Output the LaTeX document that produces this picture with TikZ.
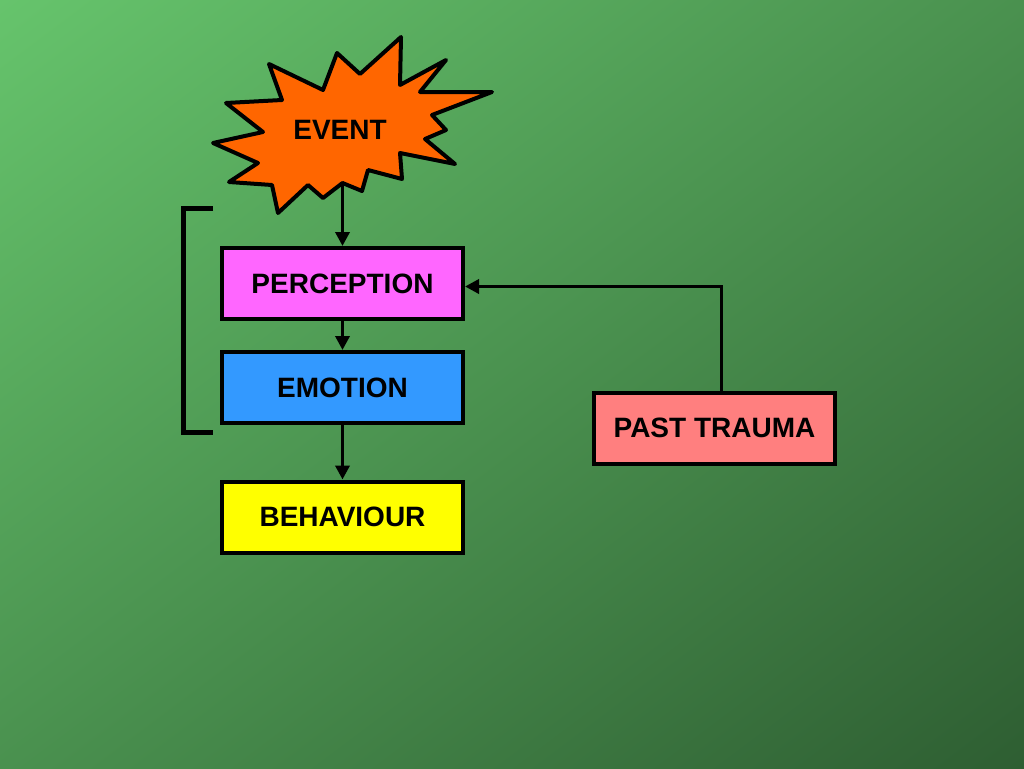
\documentclass[tikz,border=0pt]{standalone}
\usepackage{fontspec}
\setmainfont{Liberation Sans}
\usetikzlibrary{arrows.meta,shadings}
\definecolor{bgA}{RGB}{102,196,108}
\definecolor{bgB}{RGB}{74,145,79}
\definecolor{bgC}{RGB}{46,94,50}
\definecolor{evfill}{RGB}{255,102,0}
\definecolor{percfill}{RGB}{255,102,255}
\definecolor{emofill}{RGB}{51,153,255}
\definecolor{behfill}{RGB}{255,255,0}
\definecolor{pastfill}{RGB}{255,127,127}
\tikzset{
  box/.style={draw=black, line width=4pt, minimum width=241pt, minimum height=71pt,
    inner sep=0pt, font=\fontsize{28}{32}\selectfont\bfseries, text=black},
  conn/.style={draw=black, line width=3.5pt, -{Triangle[length=14pt,width=14pt]}},
  burst/.style={draw=black, fill=evfill, line width=4pt, line join=round},
  bracket/.style={draw=black, line width=5pt}
}
\begin{document}
\begin{tikzpicture}[x=1pt,y=-1pt]
\useasboundingbox (0,0) rectangle (1024,768);
\shade[upper left=bgA, upper right=bgB, lower left=bgB, lower right=bgC] (0,0) rectangle (1024,768);
% starburst
\draw[burst] (226,103) -- (282,100) -- (269,64) -- (323,90) -- (337,53) -- (360,74)
  -- (401,37) -- (400,85) -- (446,60) -- (420,92) -- (492,92) -- (432,115)
  -- (446,130) -- (425,139) -- (455,164) -- (400,153) -- (402,179) -- (368,170)
  -- (362,191) -- (342.5,183) -- (323,198) -- (308,185) -- (278,213) -- (272,185)
  -- (229,182) -- (258,163) -- (213,143) -- (263,132) -- cycle;
\node[font=\fontsize{28}{32}\selectfont\bfseries] (event) at (340,130) {EVENT};
\coordinate (eventbot) at (342.5,184);
% boxes
\node[box, fill=percfill] (perc) at (342.5,283.5) {PERCEPTION};
\node[box, fill=emofill] (emo) at (342.5,387.5) {EMOTION};
\node[box, fill=behfill] (beh) at (342.5,517) {BEHAVIOUR};
\node[box, fill=pastfill] (past) at (714.5,428) {PAST TRAUMA};
% connectors
\draw[conn] (eventbot) -- (perc.north);
\draw[conn] (perc.south) -- (emo.north);
\draw[conn] (emo.south) -- (beh.north);
\draw[conn] ([xshift=7pt]past.north) |- ([yshift=-3pt]perc.east);
% bracket
\draw[bracket] (213,208) -- (183,208) -- (183,432) -- (213,432);
\end{tikzpicture}
\end{document}
